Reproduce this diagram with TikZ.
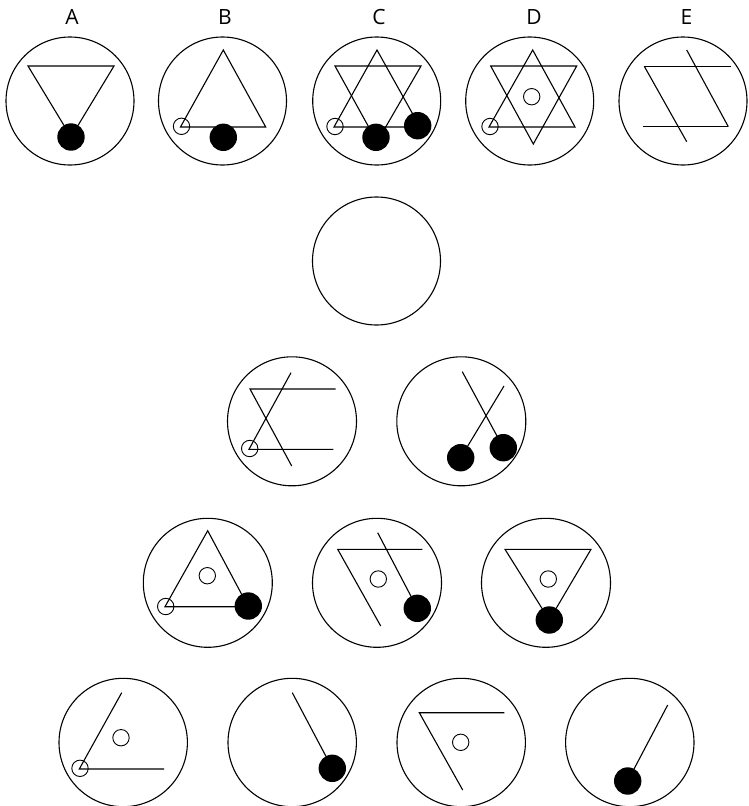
\documentclass[tikz,border=0pt]{standalone}
\usepackage{fontspec}
\setmainfont{Open Sans}
\begin{document}
\begin{tikzpicture}[x=1pt,y=-1pt,
  frame/.style={line width=1.1pt},
  ln/.style={line width=1.1pt, line join=miter},
  hole/.style={line width=0.9pt},
  blob/.style={fill=black},
  lab/.style={font=\fontsize{21}{25}\selectfont, inner sep=0pt}]
\useasboundingbox (0,0) rectangle (749,806);
% labels
\node[lab] (la) at (72,17) {A};
\node[lab] (lb) at (225,17) {B};
\node[lab] (lc) at (379,17) {C};
\node[lab] (ld) at (534,17) {D};
\node[lab] (le) at (686.5,17) {E};
% A
\draw[frame] (70,101) circle[radius=64pt];
\draw[ln] (28,66)--(114,66)--(71,137)--cycle;
\fill[blob] (71,137) circle[radius=13.7pt];
% B
\draw[frame] (222.5,101) circle[radius=64pt];
\draw[ln] (223.3,50)--(265.7,127)--(180.5,127)--cycle;
\draw[hole] (181.5,126.3) circle[radius=8.2pt];
\fill[blob] (223.3,137.3) circle[radius=13.7pt];
% C
\draw[frame] (376.7,101) circle[radius=64pt];
\draw[ln] (377,50)--(420,127)--(334,127)--cycle;
\draw[ln] (335,66)--(421,66)--(377,142)--cycle;
\draw[hole] (335,126.5) circle[radius=8.2pt];
\fill[blob] (376,137.3) circle[radius=13.7pt];
\fill[blob] (417.7,125.7) circle[radius=13.7pt];
% D
\draw[frame] (529.7,101) circle[radius=64pt];
\draw[ln] (532.7,50)--(575,127)--(489,127)--cycle;
\draw[ln] (490.7,66)--(576.7,66)--(533.3,144)--cycle;
\draw[hole] (490,126.5) circle[radius=8.2pt];
\draw[hole] (531.7,96.7) circle[radius=8.2pt];
% E
\draw[frame] (683,101) circle[radius=64pt];
\draw[ln] (644.3,66.3)--(730.7,66.3);
\draw[ln] (686.7,50)--(728.3,126.7);
\draw[ln] (644.3,66.3)--(686.7,141.7);
\draw[ln] (642.7,126.7)--(728.3,126.7);
% middle empty
\draw[frame] (376.5,261) circle[radius=64pt];
% row 2 left
\draw[frame] (292,421.3) circle[radius=64.5pt];
\draw[ln] (335.7,389)--(250,389)--(291.7,466);
\draw[ln] (291,372.7)--(249,449.3)--(333.3,449.3);
\draw[hole] (249.7,448.5) circle[radius=8.2pt];
% row 2 right
\draw[frame] (461.3,421.3) circle[radius=64.5pt];
\draw[ln] (462.3,371.7)--(503.3,447.7);
\draw[ln] (504,386)--(460.7,457.7);
\fill[blob] (503.3,447.7) circle[radius=13.7pt];
\fill[blob] (460.7,457.7) circle[radius=13.7pt];
% row 3 left
\draw[frame] (207.8,582.8) circle[radius=64.5pt];
\draw[ln] (207.7,530.7)--(248.3,606.7)--(165,606.7)--cycle;
\draw[hole] (165.7,606.5) circle[radius=8.2pt];
\draw[hole] (207.3,575.7) circle[radius=8.2pt];
\fill[blob] (248.3,606) circle[radius=13.7pt];
% row 3 middle
\draw[frame] (377,582.8) circle[radius=64.5pt];
\draw[ln] (422.3,549.3)--(337.7,549.3)--(380.7,626);
\draw[ln] (377.7,532.7)--(417.3,608.3);
\draw[hole] (378.3,579) circle[radius=8.2pt];
\fill[blob] (417.3,608.3) circle[radius=13.7pt];
% row 3 right
\draw[frame] (546,582.8) circle[radius=64.5pt];
\draw[ln] (505,549.3)--(591,549.3)--(549.3,620)--cycle;
\draw[hole] (548.3,579) circle[radius=8.2pt];
\fill[blob] (549.3,620) circle[radius=13.7pt];
% row 4
\draw[frame] (123.2,742.5) circle[radius=64.2pt];
\draw[ln] (121.7,692.7)--(79.3,769)--(164,769);
\draw[hole] (80,768.3) circle[radius=8.2pt];
\draw[hole] (121,737.7) circle[radius=8.2pt];
\draw[frame] (292.2,742.5) circle[radius=64.2pt];
\draw[ln] (292.3,692.7)--(332.3,768.3);
\fill[blob] (332.3,768.3) circle[radius=13.7pt];
\draw[frame] (461.2,742.5) circle[radius=64.2pt];
\draw[ln] (504.3,712.7)--(419.3,712.7)--(462.7,790);
\draw[hole] (460.7,742.3) circle[radius=8.2pt];
\draw[frame] (629.8,742.5) circle[radius=64.2pt];
\draw[ln] (667.7,705)--(627.7,781);
\fill[blob] (627.7,781) circle[radius=13.7pt];
\end{tikzpicture}
\end{document}
